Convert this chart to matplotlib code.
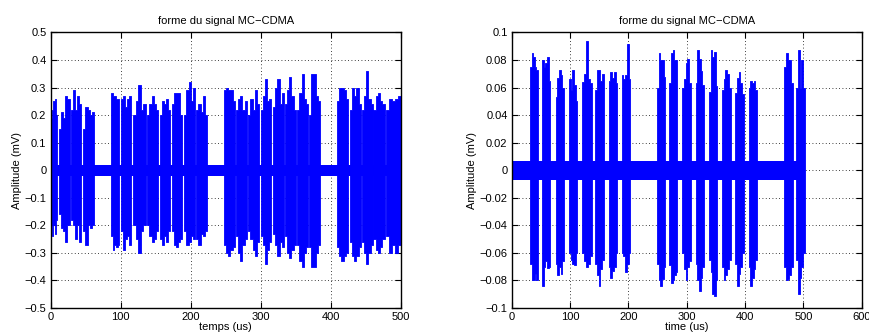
import matplotlib
matplotlib.use("Agg")
import matplotlib.pyplot as plt
import numpy as np

plt.rcParams["font.family"] = ["Liberation Sans", "DejaVu Sans"]

BLUE = "#0000ff"

# ---------------------------------------------------------------------------
# Left panel: burst windows (us) with upper / lower envelope
# ---------------------------------------------------------------------------
left_windows = [
    (0, 9.5), (12, 27), (28.5, 43), (46.5, 62),
    (86, 98), (101, 115), (118, 135.6), (138, 153.6), (156, 170),
    (173, 188), (191, 206), (208, 223.6),
    (247, 263), (265, 280), (282, 298), (300, 315), (318, 333),
    (335, 350), (352, 368), (369, 385),
    (409, 425), (427, 443), (445, 460), (461, 477), (479.5, 500),
]
left_hi = [
    [0.19, 0.22, 0.25, 0.26, 0.20], [0.15, 0.21, 0.19, 0.27, 0.26],
    [0.22, 0.29, 0.22, 0.27, 0.24], [0.15, 0.23, 0.22, 0.20, 0.21],
    [0.28, 0.27, 0.27, 0.26, 0.26], [0.26, 0.27, 0.23, 0.26, 0.27],
    [0.20, 0.25, 0.31, 0.22, 0.24], [0.20, 0.24, 0.27, 0.24, 0.22],
    [0.20, 0.25, 0.24, 0.26, 0.22], [0.24, 0.28, 0.28, 0.28, 0.20],
    [0.20, 0.29, 0.32, 0.25, 0.30], [0.22, 0.24, 0.21, 0.27, 0.20],
    [0.29, 0.30, 0.29, 0.29, 0.25], [0.22, 0.26, 0.27, 0.22, 0.25],
    [0.20, 0.26, 0.22, 0.29, 0.24], [0.22, 0.27, 0.33, 0.25, 0.26],
    [0.23, 0.30, 0.33, 0.24, 0.28], [0.24, 0.29, 0.34, 0.27, 0.22],
    [0.22, 0.28, 0.35, 0.26, 0.24], [0.20, 0.35, 0.35, 0.27, 0.25],
    [0.25, 0.30, 0.30, 0.29, 0.26], [0.22, 0.30, 0.27, 0.30, 0.24],
    [0.22, 0.27, 0.36, 0.26, 0.24], [0.22, 0.27, 0.28, 0.25, 0.24],
    [0.22, 0.26, 0.25, 0.26, 0.27],
]
left_lo = [
    [-0.20, -0.24, -0.20, -0.23, -0.18], [-0.16, -0.21, -0.22, -0.26, -0.20],
    [-0.18, -0.20, -0.25, -0.20, -0.26], [-0.22, -0.27, -0.20, -0.21, -0.20],
    [-0.24, -0.29, -0.27, -0.28, -0.27], [-0.22, -0.29, -0.25, -0.24, -0.27],
    [-0.20, -0.25, -0.30, -0.22, -0.20], [-0.20, -0.24, -0.26, -0.25, -0.22],
    [-0.25, -0.27, -0.24, -0.26, -0.22], [-0.22, -0.27, -0.28, -0.26, -0.25],
    [-0.22, -0.27, -0.26, -0.24, -0.25], [-0.25, -0.27, -0.23, -0.24, -0.22],
    [-0.27, -0.30, -0.31, -0.29, -0.28], [-0.24, -0.30, -0.33, -0.27, -0.25],
    [-0.22, -0.25, -0.29, -0.31, -0.26], [-0.24, -0.27, -0.34, -0.29, -0.26],
    [-0.23, -0.27, -0.31, -0.26, -0.28], [-0.24, -0.30, -0.32, -0.29, -0.27],
    [-0.27, -0.33, -0.35, -0.30, -0.28], [-0.28, -0.35, -0.35, -0.30, -0.27],
    [-0.28, -0.31, -0.33, -0.31, -0.30], [-0.26, -0.31, -0.33, -0.31, -0.28],
    [-0.26, -0.30, -0.34, -0.30, -0.27], [-0.25, -0.29, -0.30, -0.28, -0.25],
    [-0.24, -0.30, -0.27, -0.30, -0.27],
]
left_span = (0, 500)
left_noise = 0.02

# ---------------------------------------------------------------------------
# Right panel
# ---------------------------------------------------------------------------
right_windows = [
    (31.4, 44.6), (52.6, 65.7), (75.4, 89.7), (98, 112.6), (121, 137),
    (143, 158), (166, 181), (188.6, 203),
    (249, 263.4), (270, 284), (292.6, 307), (315, 329.7), (337.7, 352.6),
    (360.6, 375), (383, 398), (406, 420),
    (467, 482), (488, 502),
]
right_hi = [
    [0.075, 0.085, 0.082, 0.075, 0.073], [0.080, 0.075, 0.078, 0.082, 0.065],
    [0.053, 0.067, 0.073, 0.069, 0.060], [0.066, 0.058, 0.073, 0.062, 0.050],
    [0.064, 0.070, 0.094, 0.066, 0.063], [0.058, 0.073, 0.073, 0.065, 0.070],
    [0.065, 0.071, 0.067, 0.071, 0.063], [0.069, 0.066, 0.069, 0.092, 0.066],
    [0.060, 0.085, 0.080, 0.080, 0.068], [0.063, 0.085, 0.087, 0.080, 0.080],
    [0.060, 0.066, 0.078, 0.081, 0.063], [0.063, 0.087, 0.081, 0.072, 0.062],
    [0.057, 0.087, 0.082, 0.086, 0.061], [0.058, 0.066, 0.073, 0.070, 0.060],
    [0.056, 0.067, 0.071, 0.063, 0.055], [0.060, 0.065, 0.063, 0.065, 0.058],
    [0.075, 0.085, 0.080, 0.080, 0.063], [0.060, 0.087, 0.060, 0.080, 0.060],
]
right_lo = [
    [-0.068, -0.080, -0.080, -0.075, -0.080], [-0.084, -0.070, -0.066, -0.071, -0.070],
    [-0.068, -0.076, -0.070, -0.075, -0.066], [-0.060, -0.065, -0.068, -0.069, -0.060],
    [-0.060, -0.066, -0.070, -0.068, -0.062], [-0.068, -0.076, -0.084, -0.072, -0.065],
    [-0.070, -0.078, -0.073, -0.070, -0.060], [-0.060, -0.062, -0.074, -0.068, -0.060],
    [-0.068, -0.080, -0.084, -0.079, -0.070], [-0.069, -0.082, -0.080, -0.076, -0.074],
    [-0.060, -0.072, -0.080, -0.070, -0.066], [-0.068, -0.080, -0.088, -0.078, -0.070],
    [-0.065, -0.074, -0.090, -0.091, -0.080], [-0.070, -0.080, -0.076, -0.072, -0.065],
    [-0.068, -0.084, -0.075, -0.070, -0.060], [-0.070, -0.084, -0.078, -0.072, -0.065],
    [-0.070, -0.080, -0.079, -0.076, -0.070], [-0.065, -0.090, -0.078, -0.070, -0.060],
]
right_span = (0, 502)
right_noise = 0.007

left_yticks = [-0.5, -0.4, -0.3, -0.2, -0.1, 0, 0.1, 0.2, 0.3, 0.4, 0.5]
left_ylabels = ["\u22120.5", "\u22120.4", "\u22120.3", "\u22120.2", "\u22120.1", "0",
                "0.1", "0.2", "0.3", "0.4", "0.5"]
right_yticks = [-0.1, -0.08, -0.06, -0.04, -0.02, 0, 0.02, 0.04, 0.06, 0.08, 0.1]
right_ylabels = ["\u22120.1", "\u22120.08", "\u22120.06", "\u22120.04", "\u22120.02", "0",
                 "0.02", "0.04", "0.06", "0.08", "0.1"]


def draw_signal(ax, windows, hi, lo, span, noise):
    ax.fill_between(span, [-noise, -noise], [noise, noise], color=BLUE, lw=0)
    for (t0, t1), h, l in zip(windows, hi, lo):
        edges = np.linspace(t0, t1, len(h) + 1)
        h_ext = list(h) + [h[-1]]
        l_ext = list(l) + [l[-1]]
        ax.fill_between(edges, l_ext, h_ext, step="post", color=BLUE,
                        lw=0.6, edgecolor=BLUE)


def style_axes(ax, xmax, xticks, yticks, ylabels, ylim, xlabel):
    ax.set_xlim(0, xmax)
    ax.set_ylim(*ylim)
    ax.set_xticks(xticks)
    ax.set_xticklabels([str(t) for t in xticks])
    ax.set_yticks(yticks)
    ax.set_yticklabels(ylabels)
    ax.set_axisbelow(True)
    ax.grid(True, color="black", linestyle=(0, (1, 3)), linewidth=0.6)
    ax.tick_params(direction="in", top=True, right=True, labelsize=8,
                   length=4, width=0.8, pad=3)
    for s in ax.spines.values():
        s.set_linewidth(1.0)
    ax.set_title("forme du signal MC\u2212CDMA", fontsize=8, pad=6)
    ax.set_xlabel(xlabel, fontsize=8, labelpad=0)
    ax.set_ylabel("Amplitude (mV)", fontsize=8, labelpad=2)


fig = plt.figure(figsize=(8.69, 3.36), dpi=100)
ax1 = fig.add_axes([0.0583, 0.0833, 0.4028, 0.82])
ax2 = fig.add_axes([0.5889, 0.0833, 0.4028, 0.82])

draw_signal(ax1, left_windows, left_hi, left_lo, left_span, left_noise)
style_axes(ax1, 500, [0, 100, 200, 300, 400, 500], left_yticks, left_ylabels,
           (-0.5, 0.5), "temps (us)")

draw_signal(ax2, right_windows, right_hi, right_lo, right_span, right_noise)
style_axes(ax2, 600, [0, 100, 200, 300, 400, 500, 600], right_yticks, right_ylabels,
           (-0.1, 0.1), "time (us)")

fig.savefig("out.png", dpi=100)
